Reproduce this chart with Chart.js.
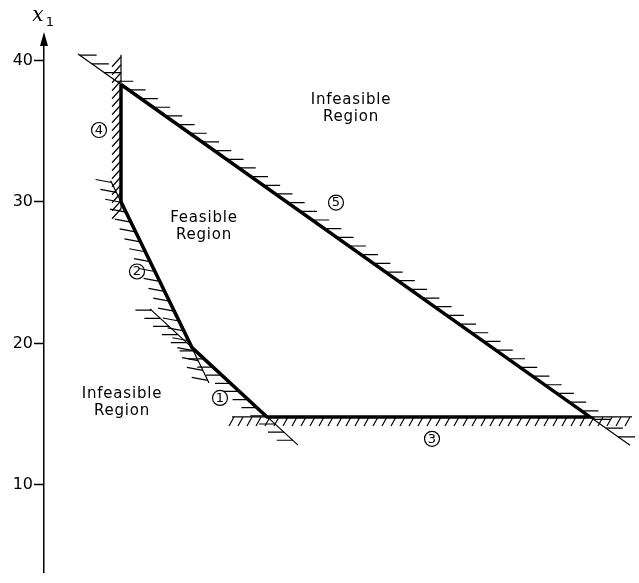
<!DOCTYPE html>
<html lang="en">
<head>
  <meta charset="UTF-8">
  <title>Feasible region</title>
  <style>
    html, body { margin: 0; padding: 0; background: #fff; }
    #wrap { width: 639px; height: 583px; position: relative; }
  </style>
</head>
<body>
  <script src="https://cdn.jsdelivr.net/npm/chart.js"></script>
  <div id="wrap"><canvas id="myChart"></canvas></div>

<script>
  // y axis ticks (x1)
  const yTicks = [10, 20, 30, 40];

  // corners of the feasible region (x is arbitrary, axis not shown)
  const vertexX = [7.7, 7.7, 14.8, 22.3, 54.6, 7.7];
  const vertexY = [38.3, 30, 19.7, 14.8, 14.8, 38.3];

  // constraint lines, start and end points
  const constraintIds = ['1', '2', '3', '4', '5'];
  const line1X = [10.6, 25.4];
  const line1Y = [22.44, 12.81];
  const line2X = [6.67, 16.5];
  const line2Y = [31.5, 17.2];
  const line3X = [18.8, 58.8];
  const line3Y = [14.8, 14.8];
  const line4X = [7.7, 7.7];
  const line4Y = [40.4, 29.5];
  const line5X = [3.4, 58.6];
  const line5Y = [40.45, 12.8];

  // circled constraint numbers
  const markerX = [17.6, 9.3, 38.8, 5.5, 29.2];
  const markerY = [16.14, 25.08, 13.25, 35.08, 29.95];

  // region labels
  const regionText = [['Infeasible', 'Region'], ['Feasible', 'Region'], ['Infeasible', 'Region']];
  const regionX = [30.7, 16.0, 7.8];
  const regionY = [36.58, 28.23, 15.79];

  const lineXs = [line1X, line2X, line3X, line4X, line5X];
  const lineYs = [line1Y, line2Y, line3Y, line4Y, line5Y];

  // hatch look per constraint: step along line (px) and mark vector (px)
  const hatchStyle = {
    '1': { step: 12, dx: -16, dy: 0 },
    '2': { step: 11, dx: -16, dy: -3 },
    '3': { step: 9, dx: -5, dy: 9 },
    '4': { step: 8, dx: -9, dy: 10 },
    '5': { step: 15, dx: 17, dy: 0 }
  };

  const toPoints = (xs, ys) => xs.map((x, i) => ({ x: x, y: ys[i] }));

  const datasets = constraintIds.map((id, i) => ({
    label: 'constraint ' + id,
    data: toPoints(lineXs[i], lineYs[i]),
    borderColor: '#000',
    borderWidth: 1.2,
    showLine: true,
    pointRadius: 0,
    fill: false
  }));
  datasets.push({
    label: 'feasible region',
    data: toPoints(vertexX, vertexY),
    borderColor: '#000',
    borderWidth: 3.5,
    borderJoinStyle: 'miter',
    showLine: true,
    pointRadius: 0,
    fill: false
  });

  const decorations = {
    id: 'decorations',
    afterDatasetsDraw(chart) {
      const ctx = chart.ctx;
      const xs = chart.scales.x, ys = chart.scales.y;
      ctx.save();
      ctx.strokeStyle = '#000';
      ctx.fillStyle = '#000';

      // hatching on the infeasible side of each constraint
      ctx.lineWidth = 1.2;
      constraintIds.forEach((id, i) => {
        const st = hatchStyle[id];
        const x0 = xs.getPixelForValue(lineXs[i][0]), y0 = ys.getPixelForValue(lineYs[i][0]);
        const x1 = xs.getPixelForValue(lineXs[i][1]), y1 = ys.getPixelForValue(lineYs[i][1]);
        const len = Math.hypot(x1 - x0, y1 - y0);
        const n = Math.floor(len / st.step);
        ctx.beginPath();
        for (let k = 0; k <= n; k++) {
          const t = (k * st.step + 2) / len;
          if (t > 1) break;
          const px = x0 + (x1 - x0) * t, py = y0 + (y1 - y0) * t;
          ctx.moveTo(px, py);
          ctx.lineTo(px + st.dx, py + st.dy);
        }
        ctx.stroke();
      });

      // circled numbers
      ctx.font = '13px "DejaVu Sans"';
      ctx.textAlign = 'center';
      ctx.textBaseline = 'middle';
      constraintIds.forEach((id, i) => {
        const px = xs.getPixelForValue(markerX[i]), py = ys.getPixelForValue(markerY[i]);
        ctx.beginPath();
        ctx.arc(px, py, 7.5, 0, Math.PI * 2);
        ctx.stroke();
        ctx.fillText(id, px, py + 0.5);
      });

      // region labels
      ctx.font = '15px "DejaVu Sans"';
      ctx.letterSpacing = '0.8px';
      regionText.forEach((lines, i) => {
        const px = xs.getPixelForValue(regionX[i]), py = ys.getPixelForValue(regionY[i]);
        lines.forEach((s, j) => {
          ctx.fillText(s, px, py + (j - (lines.length - 1) / 2) * 17);
        });
      });
      ctx.letterSpacing = '0px';

      // arrow and name of the y axis
      const ax = ys.right;
      const top = chart.chartArea.top;
      ctx.beginPath();
      ctx.moveTo(ax, top - 13);
      ctx.lineTo(ax - 4, top + 1);
      ctx.lineTo(ax + 4, top + 1);
      ctx.closePath();
      ctx.fill();
      ctx.font = 'italic 20px "DejaVu Serif"';
      ctx.fillText('x', ax - 6, top - 29);
      ctx.font = '13px "DejaVu Sans"';
      ctx.fillText('1', ax + 6, top - 22);
      ctx.restore();
    }
  };

  const config = {
    type: 'scatter',
    data: { datasets: datasets },
    options: {
      responsive: true,
      maintainAspectRatio: false,
      animation: false,
      layout: { padding: { top: 45, left: 0, right: 0, bottom: 0 } },
      plugins: {
        legend: { display: false },
        tooltip: { enabled: false }
      },
      scales: {
        x: {
          type: 'linear',
          display: false,
          min: 0,
          max: 59.5
        },
        y: {
          type: 'linear',
          min: 3.81,
          max: 41.09,
          afterFit: (scale) => { scale.width = 44; },
          afterBuildTicks: (scale) => { scale.ticks = yTicks.map(v => ({ value: v })); },
          border: { color: '#000', width: 1.5 },
          grid: {
            drawOnChartArea: false,
            drawTicks: true,
            tickLength: 10,
            tickColor: '#000',
            tickWidth: 1.5
          },
          ticks: {
            color: '#000',
            padding: 1,
            font: { family: 'DejaVu Sans', size: 16 }
          }
        }
      }
    },
    plugins: [decorations]
  };

  var myChart = new Chart(document.getElementById('myChart'), config);
</script>
</body>
</html>
